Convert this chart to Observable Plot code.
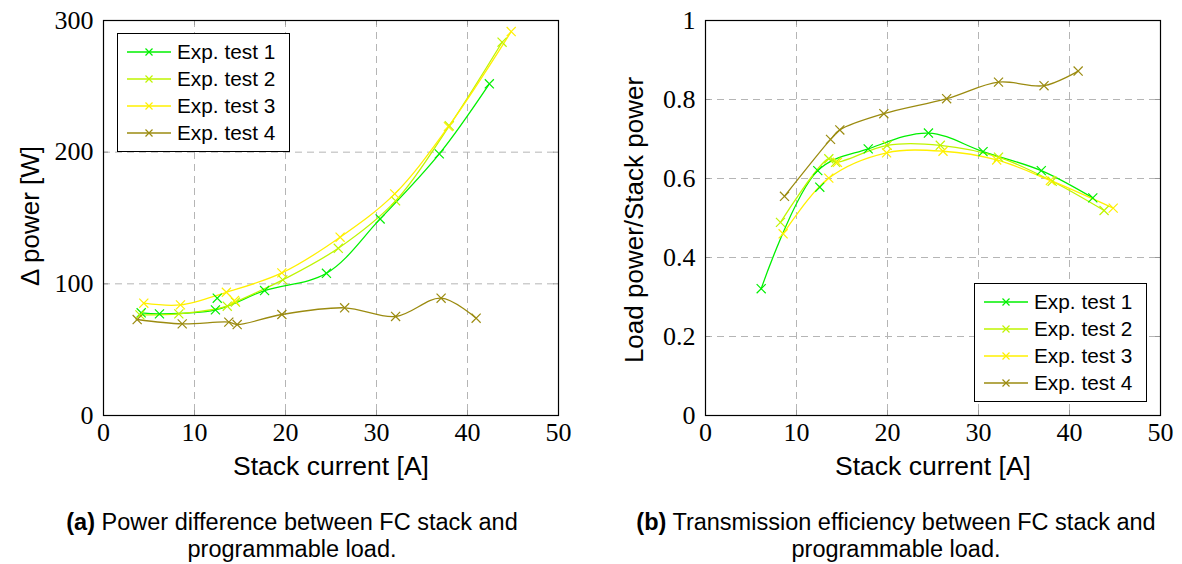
<!DOCTYPE html>
<html>
<head>
<meta charset="utf-8">
<script src="https://cdn.jsdelivr.net/npm/d3@7"></script>
<script src="https://cdn.jsdelivr.net/npm/@observablehq/plot@0.6"></script>
<style>
  html, body { margin: 0; padding: 0; background: #fff; }
  #page { position: relative; width: 1182px; height: 564px; overflow: hidden; font-family: "Liberation Sans", Arial, sans-serif; color: #000; }
  .panel { position: absolute; top: 0; }
  .ylab { position: absolute; font-size: 26px; white-space: nowrap; transform: translate(-50%, -50%) rotate(-90deg); }
  .xlab { position: absolute; font-size: 26.5px; white-space: nowrap; transform: translateX(-50%); }
  .cap { position: absolute; font-size: 23.5px; text-align: center; line-height: 27px; white-space: nowrap; transform: translateX(-50%); }
  .legend { position: absolute; border: 1px solid #000; background: #fff; box-sizing: border-box; }
  .row { position: absolute; left: 0; height: 26px; display: flex; align-items: center; font-size: 20.8px; white-space: nowrap; }
  .row svg { margin-left: 9px; margin-right: 6px; }
</style>
</head>
<body>
<div id="page"></div>
<script>
// ---------- data ----------
const seriesNames = ["Exp. test 1", "Exp. test 2", "Exp. test 3", "Exp. test 4"];
const seriesColors = ["#00f000", "#bff500", "#fff000", "#9b8b10"];

// (a) Power difference [W] vs stack current [A]
const dpCurrent1 = [4.14, 6.15, 12.3, 17.7, 24.5, 30.4, 36.9, 42.4];
const dpPower1   = [78.0, 77.2, 80.2, 94.9, 108, 149.3, 198.7, 251.9];
const dpCurrent2 = [4.0, 8.28, 13.6, 14.5, 19.7, 25.8, 32.1, 38.0, 43.8];
const dpPower2   = [76.4, 77.2, 83.0, 86.1, 103, 127, 163, 220, 283.5];
const dpCurrent3 = [4.43, 8.46, 13.5, 19.6, 26.0, 32.0, 37.9, 44.8];
const dpPower3   = [85.3, 84.0, 93.6, 108.3, 135.4, 168.3, 219.4, 291.6];
const dpCurrent4 = [3.70, 8.65, 13.77, 14.69, 19.6, 26.5, 32.1, 37.1, 40.95];
const dpPower4   = [72.9, 69.6, 70.9, 69.1, 76.7, 81.8, 75.2, 89.1, 73.9];
// markers drawn without line segment
const dpExtraSeries  = [0, 2];
const dpExtraCurrent = [12.5, 14.4];
const dpExtraPower   = [89.1, 87.3];

// (b) Efficiency (load power / stack power) vs stack current [A]
const effCurrent1 = [6.12, 12.34, 17.88, 24.5, 30.5, 36.9, 42.56];
const effValue1   = [0.321, 0.620, 0.675, 0.715, 0.668, 0.620, 0.551];
const effCurrent2 = [8.24, 13.55, 14.3, 19.96, 25.8, 32.2, 38.1, 43.8];
const effValue2   = [0.489, 0.650, 0.641, 0.684, 0.684, 0.654, 0.593, 0.519];
const effCurrent3 = [8.53, 13.55, 19.9, 26.1, 32.0, 37.9, 44.8];
const effValue3   = [0.460, 0.601, 0.665, 0.669, 0.647, 0.595, 0.525];
const effCurrent4 = [8.68, 13.74, 14.76, 19.6, 26.5, 32.2, 37.2, 40.95];
const effValue4   = [0.555, 0.699, 0.723, 0.764, 0.802, 0.844, 0.835, 0.872];
const effExtraSeries  = [0, 2];
const effExtraCurrent = [12.56, 14.5];
const effExtraValue   = [0.578, 0.641];

const xTicks = [0, 10, 20, 30, 40, 50];
const dpTicks = [0, 100, 200, 300];
const effTicks = [0, 0.2, 0.4, 0.6, 0.8, 1];

const xLabel = "Stack current [A]";
const dpLabel = "\u0394 power [W]";
const effLabel = "Load power/Stack power";

// ---------- helpers ----------
function rows(xs, ys, s) { return xs.map((x, i) => ({x, y: ys[i], s})); }
const dpData = [
  rows(dpCurrent1, dpPower1, 0), rows(dpCurrent2, dpPower2, 1),
  rows(dpCurrent3, dpPower3, 2), rows(dpCurrent4, dpPower4, 3)];
const dpExtra = dpExtraCurrent.map((x, i) => ({x, y: dpExtraPower[i], s: dpExtraSeries[i]}));
const effData = [
  rows(effCurrent1, effValue1, 0), rows(effCurrent2, effValue2, 1),
  rows(effCurrent3, effValue3, 2), rows(effCurrent4, effValue4, 3)];
const effExtra = effExtraCurrent.map((x, i) => ({x, y: effExtraValue[i], s: effExtraSeries[i]}));

const W = 591, H = 452, MT = 20, MB = 37;
const innerH = H - MT - MB;

function makePanel(series, extra, yDomain, yTicks, ml, mr) {
  const innerW = W - ml - mr;
  const marks = [
    Plot.ruleX(xTicks.slice(1, -1), {x: d => d, stroke: "#b5b5b5", strokeWidth: 1, strokeDasharray: "7 5"}),
    Plot.ruleY(yTicks.slice(1, -1), {y: d => d, stroke: "#b5b5b5", strokeWidth: 1, strokeDasharray: "7 5"}),
    // inner tick marks on all four sides
    Plot.ruleX(xTicks, {x: d => d, stroke: "#999", insetTop: innerH - 5}),
    Plot.ruleX(xTicks, {x: d => d, stroke: "#999", insetBottom: innerH - 5}),
    Plot.ruleY(yTicks, {y: d => d, stroke: "#999", insetRight: innerW - 5}),
    Plot.ruleY(yTicks, {y: d => d, stroke: "#999", insetLeft: innerW - 5}),
    Plot.axisX({ticks: xTicks, tickSize: 0, tickPadding: 7, label: null, fontSize: 26,
      fontFamily: "Liberation Serif, serif", tickFormat: d => String(d)}),
    Plot.axisY({ticks: yTicks, tickSize: 0, tickPadding: 10, label: null, fontSize: 26,
      fontFamily: "Liberation Serif, serif", tickFormat: d => String(d)})
  ];
  series.forEach((data, i) => {
    marks.push(Plot.line(data, {x: "x", y: "y", stroke: seriesColors[i], strokeWidth: 1.3, curve: "catmull-rom"}));
  });
  series.forEach((data, i) => {
    marks.push(Plot.dot(data, {x: "x", y: "y", symbol: "times", r: 4.2, stroke: seriesColors[i], strokeWidth: 1.2}));
  });
  marks.push(Plot.dot(extra, {x: "x", y: "y", symbol: "times", r: 4.2, stroke: d => seriesColors[d.s], strokeWidth: 1.2}));
  marks.push(Plot.frame({stroke: "#000", strokeWidth: 1.2}));
  return Plot.plot({
    width: W, height: H,
    marginLeft: ml, marginRight: mr, marginTop: MT, marginBottom: MB,
    x: {domain: [0, 50]},
    y: {domain: yDomain},
    style: {background: "transparent", overflow: "visible", color: "#000"},
    marks
  });
}

function legendBox(left, top) {
  const box = document.createElement("div");
  box.className = "legend";
  box.style.left = left + "px"; box.style.top = top + "px";
  box.style.width = "173px"; box.style.height = "119px";
  seriesNames.forEach((name, i) => {
    const r = document.createElement("div");
    r.className = "row";
    r.style.top = (5 + i * 27) + "px";
    r.innerHTML = `<svg width="44" height="14"><line x1="0" y1="7" x2="44" y2="7" stroke="${seriesColors[i]}" stroke-width="1.3"/>` +
      `<path d="M18.5,3.5L25.5,10.5M18.5,10.5L25.5,3.5" stroke="${seriesColors[i]}" stroke-width="1.2"/></svg><span>${name}</span>`;
    box.appendChild(r);
  });
  return box;
}

const page = document.getElementById("page");

const left = document.createElement("div");
left.className = "panel"; left.style.left = "0px";
left.appendChild(makePanel(dpData, dpExtra, [0, 300], dpTicks, 103, 33));
page.appendChild(left);

const right = document.createElement("div");
right.className = "panel"; right.style.left = "591px";
right.appendChild(makePanel(effData, effExtra, [0, 1], effTicks, 114, 22));
page.appendChild(right);

page.appendChild(legendBox(117, 33));
page.appendChild(legendBox(974, 283));

function addText(cls, html, x, y) {
  const d = document.createElement("div");
  d.className = cls; d.innerHTML = html;
  d.style.left = x + "px"; d.style.top = y + "px";
  page.appendChild(d);
}
addText("ylab", dpLabel, 30, 216);
addText("ylab", effLabel, 634, 220);
addText("xlab", xLabel, 331, 451);
addText("xlab", xLabel, 933, 451);
addText("cap", "<b>(a)</b> Power difference between FC stack and<br>programmable load.", 292, 509);
addText("cap", "<b>(b)</b> Transmission efficiency between FC stack and<br>programmable load.", 896, 509);
</script>
</body>
</html>
